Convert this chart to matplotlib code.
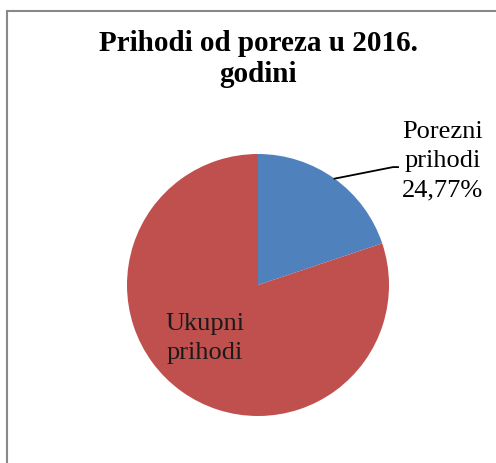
import matplotlib.pyplot as plt
import matplotlib.patches as patches
import numpy as np

plt.rcParams["font.family"] = ["Liberation Serif", "DejaVu Serif"]

# data
categories = ["Porezni prihodi", "Ukupni prihodi"]
values = [24.77, 100]
colors = ["#4F81BD", "#C0504D"]
title = "Prihodi od poreza u 2016.\ngodini"

W, H = 496, 463
fig = plt.figure(figsize=(W / 100, H / 100), dpi=100)

# pie centre (258, 285), radius 131 px
cx, cy, r = 258, 285, 131
ax = fig.add_axes([(cx - r) / W, (H - cy - r) / H, 2 * r / W, 2 * r / H])
wedges, _ = ax.pie(values, colors=colors, startangle=90, counterclock=False,
                   radius=1, wedgeprops={"linewidth": 0})
ax.set_xlim(-1, 1)
ax.set_ylim(-1, 1)
ax.set_aspect("equal")
ax.axis("off")

# label for the small slice, with leader line
w = wedges[0]
mid = np.deg2rad((w.theta1 + w.theta2) / 2)
start = (np.cos(mid), np.sin(mid))
elbow = (1.03, 0.90)
end = (1.069, 0.90)
ax.plot([start[0], elbow[0], end[0]], [start[1], elbow[1], end[1]],
        color="black", lw=1.3, clip_on=False)
ax.text(1.412, 0.947, "Porezni\nprihodi\n24,77%", ha="center", va="center",
        fontsize=19, linespacing=1.42, clip_on=False)

# label inside the big slice
ax.text(-0.405, -0.41, "Ukupni\nprihodi", ha="center", va="center",
        fontsize=19, linespacing=1.42, color="#1a1a1a")

fig.text(cx / W, 1 - 59 / H, title, ha="center", va="center",
         fontsize=21, fontweight="bold", linespacing=1.2)

# chart border (runs off the right and bottom edges)
border = patches.Rectangle((7 / W, -0.1), 1.2, (H - 11) / H + 0.1,
                           transform=fig.transFigure, fill=False,
                           edgecolor="#888888", lw=1.5)
fig.patches.append(border)

fig.savefig("out.png", dpi=100)
